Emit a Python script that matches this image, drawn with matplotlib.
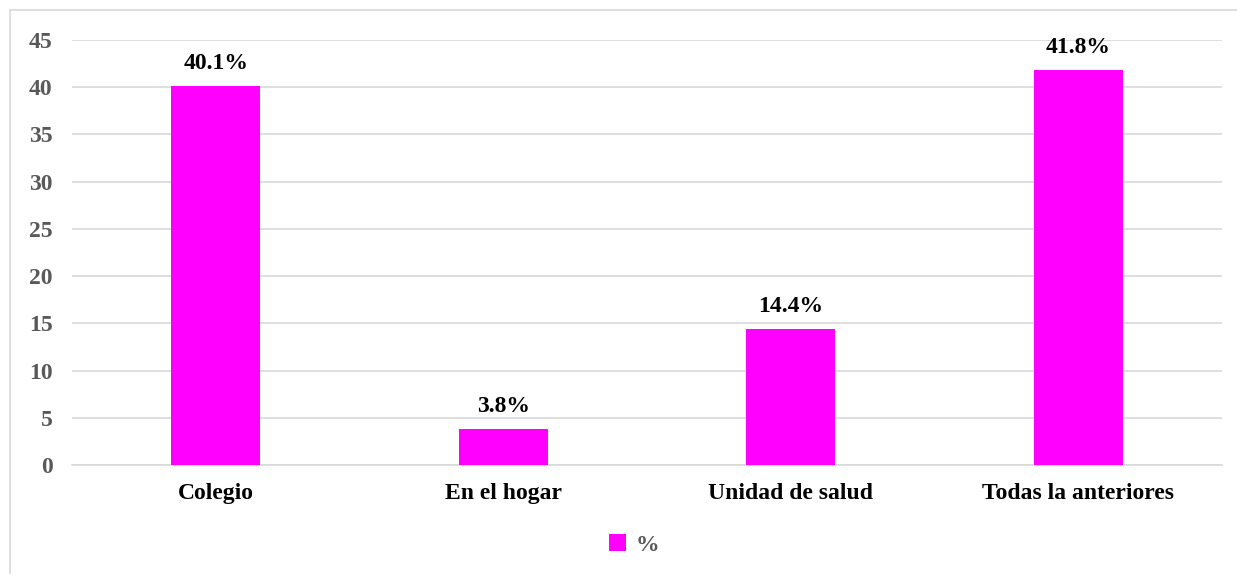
import matplotlib
matplotlib.use('Agg')
import matplotlib.pyplot as plt
from matplotlib.patches import Rectangle

plt.rcParams.update({'font.family': 'Liberation Serif', 'font.weight': 'bold'})

categories = ['Colegio', 'En el hogar', 'Unidad de salud', 'Todas la anteriores']
values = [40.1, 3.8, 14.4, 41.8]
labels = ['40.1%', '3.8%', '14.4%', '41.8%']
yticks = [0, 5, 10, 15, 20, 25, 30, 35, 40, 45]
BAR = '#FF00FF'
GRID = '#D9D9D9'
TICK = '#595959'
FS = 17

fig = plt.figure(figsize=(12.37, 5.74), dpi=100)
W, H = 1237, 574
ax = fig.add_axes([72 / W, 1 - 465 / H, 1150 / W, 425 / H])

# outer frame (right and bottom edges are cut off in the original)
fig.patches.append(Rectangle((10 / W, -0.05), 1.2, 1 - 10 / H + 0.05, transform=fig.transFigure,
                             fill=False, edgecolor=GRID, linewidth=1.2))

x = range(len(categories))
ax.bar(x, values, width=0.31, color=BAR, zorder=3, label='%')
for i, (v, t) in enumerate(zip(values, labels)):
    ax.annotate(t, (i, v), xytext=(0, 9), textcoords='offset points', ha='center', va='bottom',
                fontsize=FS, fontweight='bold', color='black')

ax.set_xlim(-0.5, len(categories) - 0.5)
ax.set_ylim(0, 45)
ax.set_yticks(yticks)
ax.set_xticks(list(x))
ax.set_xticklabels(categories, fontsize=FS, fontweight='bold', color='black')
ax.tick_params(axis='y', labelsize=FS, colors=TICK, length=0, pad=14)
ax.tick_params(axis='x', length=0, pad=13)
ax.grid(axis='y', color=GRID, linewidth=1.2, zorder=0)
for s in ['top', 'right', 'left']:
    ax.spines[s].set_visible(False)
ax.spines['bottom'].set_color(GRID)
ax.spines['bottom'].set_linewidth(1.2)

leg = fig.legend(loc='center', bbox_to_anchor=(634 / W, 1 - 545 / H), frameon=False,
                 fontsize=FS, handlelength=0.7, handleheight=0.7, handletextpad=0.4)
for t in leg.get_texts():
    t.set_color(TICK)

fig.savefig('out.png', dpi=100)
